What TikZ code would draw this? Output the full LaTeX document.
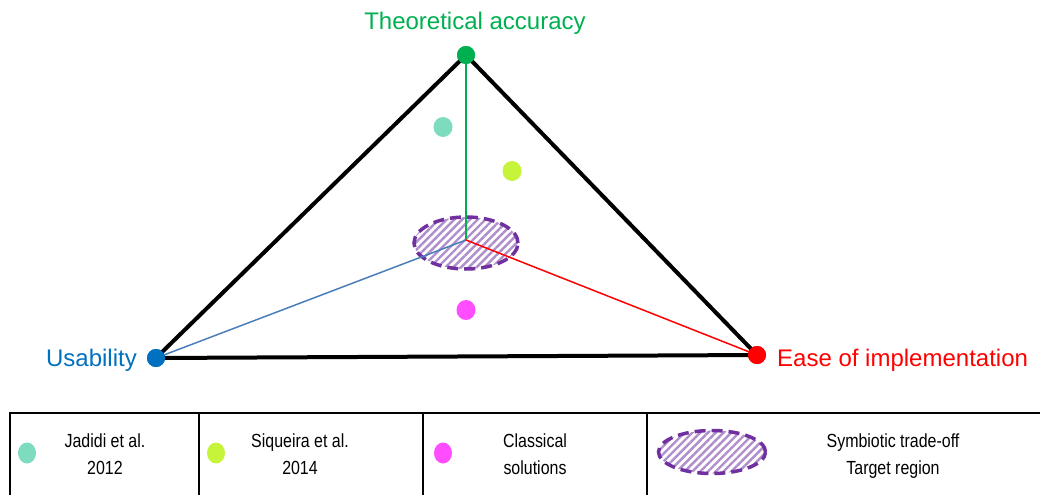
\documentclass[tikz,border=0pt]{standalone}
\usepackage{fontspec}
\setmainfont{Liberation Sans}
\usetikzlibrary{patterns.meta,shapes.geometric}
\definecolor{cgreen}{HTML}{00B050}
\definecolor{cblue}{HTML}{0070C0}
\definecolor{clblue}{HTML}{4A7EBB}
\definecolor{cred}{HTML}{FF0000}
\definecolor{cpurple}{HTML}{7030A0}
\definecolor{cteal}{HTML}{7DDCC0}
\definecolor{clime}{HTML}{C6F43A}
\definecolor{cmag}{HTML}{FF4DFF}
\newcommand{\legcell}[2]{\scalebox{0.84}[1]{\fontsize{19}{27}\selectfont\begin{tabular}{@{}c@{}}#1\\#2\end{tabular}}}
\tikzset{
  vert/.style={circle, inner sep=0pt, minimum size=18pt},
  dot/.style={ellipse, inner sep=0pt, minimum width=19pt, minimum height=20pt},
  ldot/.style={ellipse, inner sep=0pt, minimum width=18pt, minimum height=21pt},
  edge/.style={line width=4pt, line cap=round, line join=round},
  bigtxt/.style={font=\fontsize{24}{26}\selectfont, inner sep=0pt},
  legtxt/.style={inner sep=0pt},
  target/.style={ellipse, draw=cpurple, line width=3.5pt, dash pattern=on 11pt off 6pt,
    pattern={Lines[angle=45, distance=5.5pt, line width=2.4pt]}, pattern color=cpurple!55},
  tabline/.style={line width=1.6pt},
}
\begin{document}
\begin{tikzpicture}[x=1pt,y=-1pt]
\useasboundingbox (0,0) rectangle (1040,495);
% vertices
\coordinate (C) at (466,240);
\node[vert, fill=cgreen] (T) at (466,55) {};
\node[vert, fill=cblue] (U) at (156,358) {};
\node[vert, fill=cred] (E) at (757,355) {};
% target ellipse
\node[target, minimum width=104pt, minimum height=52pt] (R) at (466,243) {};
% inner lines
\draw[cgreen, line width=1.5pt] (T.center) -- (C);
\draw[clblue, line width=1.5pt] (U.center) -- (C);
\draw[cred, line width=1.5pt] (C) -- (E.center);
% triangle
\draw[edge] (T.center) -- (U.center) -- (E.center) -- cycle;
\node[vert, fill=cgreen] at (T) {};
\node[vert, fill=cblue] at (U) {};
\node[vert, fill=cred] at (E) {};
% data dots
\node[dot, fill=cteal] (J) at (443,127) {};
\node[dot, fill=clime] (S) at (512,171) {};
\node[dot, fill=cmag] (K) at (466,310) {};
% labels
\node[bigtxt, text=cgreen] (TL) at (475,23) {Theoretical accuracy};
\node[bigtxt, text=cblue, anchor=east] (UL) at (137,360) {Usability};
\node[bigtxt, text=cred, anchor=west] (EL) at (777,360) {Ease of implementation};
% legend table
\draw[tabline] (10,495) -- (10,413) -- (1040,413);
\draw[tabline] (199,413) -- (199,495);
\draw[tabline] (423,413) -- (423,495);
\draw[tabline] (647,413) -- (647,495);
\node[ldot, fill=cteal] (LJ) at (27,453) {};
\node[ldot, fill=clime] (LS) at (216,453) {};
\node[ldot, fill=cmag] (LK) at (443,453) {};
\node[target, line width=3.5pt, minimum width=107pt, minimum height=43pt] (LR) at (712,452) {};
\node[legtxt] (LJt) at (105,456) {\legcell{Jadidi et al.}{2012}};
\node[legtxt] (LSt) at (300,456) {\legcell{Siqueira et al.}{2014}};
\node[legtxt] (LKt) at (535,456) {\legcell{Classical}{solutions}};
\node[legtxt] (LRt) at (893,456) {\legcell{Symbiotic trade-off}{Target region}};
\end{tikzpicture}
\end{document}
